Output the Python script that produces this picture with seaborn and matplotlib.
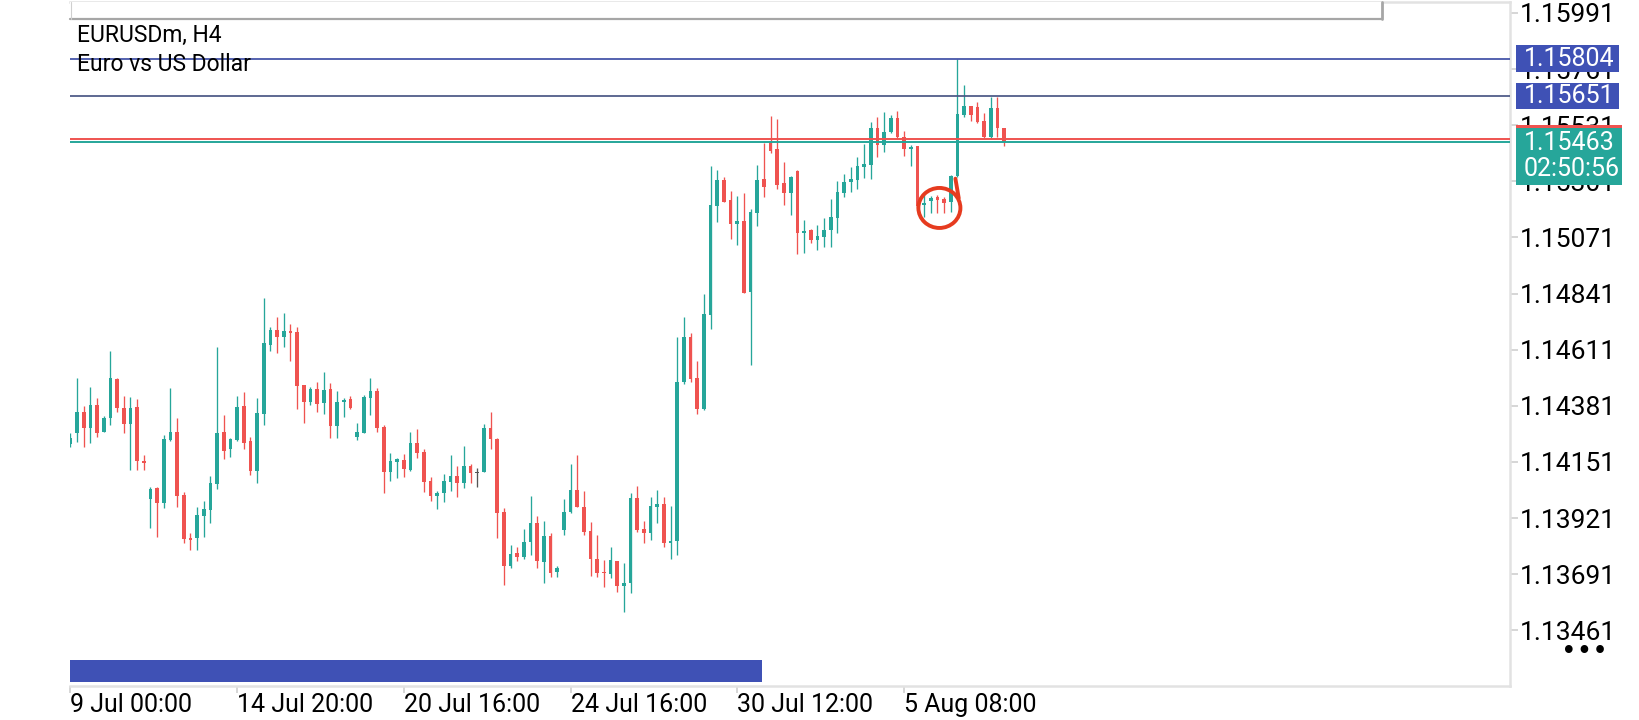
"""
EURUSDm H4 candlestick screenshot rebuilt with seaborn / matplotlib
"""
import numpy as np
import pandas as pd
import seaborn as sns
import matplotlib.pyplot as plt
from matplotlib.patches import Rectangle, Ellipse

# OHLC, one value per H4 bar
opens = [
    1.14224, 1.14268, 1.14356, 1.14291, 1.14384, 1.14275, 1.14330, 1.14490, 1.14371, 1.14306,
    1.14375, 1.14154, 1.13998, 1.14043, 1.13984, 1.14241, 1.14272, 1.14016, 1.13838, 1.13838,
    1.13931, 1.13954, 1.14061, 1.14272, 1.14203, 1.14241, 1.14380, 1.14237, 1.14115, 1.14347,
    1.14630, 1.14692, 1.14662, 1.14686, 1.14685, 1.14466, 1.14398, 1.14450, 1.14391, 1.14450,
    1.14300, 1.14398, 1.14409, 1.14254, 1.14271, 1.14414, 1.14442, 1.14295, 1.14111, 1.14152,
    1.14159, 1.14118, 1.14230, 1.14193, 1.14073, 1.14011, 1.14022, 1.14070, 1.14093, 1.14066,
    1.14134, 1.14107, 1.14111, 1.14291, 1.14245, 1.13945, 1.13726, 1.13779, 1.13763, 1.13822,
    1.13900, 1.13742, 1.13848, 1.13701, 1.13872, 1.13947, 1.14036, 1.13968, 1.13869, 1.13752,
    1.13701, 1.13690, 1.13745, 1.13644, 1.13654, 1.14004, 1.13876, 1.13861, 1.13968, 1.13979,
    1.13820, 1.13827, 1.14477, 1.14664, 1.14496, 1.14368, 1.14753, 1.15200, 1.15306, 1.15224,
    1.15125, 1.15138, 1.14848, 1.15172, 1.15310, 1.15467, 1.15433, 1.15293, 1.15254, 1.15344,
    1.15090, 1.15101, 1.15060, 1.15074, 1.15101, 1.15152, 1.15254, 1.15297, 1.15306, 1.15361,
    1.15368, 1.15518, 1.15450, 1.15504, 1.15559, 1.15481, 1.15432, 1.15446, 1.15204, 1.15222,
    1.15235, 1.15227, 1.15217, 1.15323, 1.15573, 1.15610, 1.15607, 1.15548, 1.15481, 1.15600,
    1.15518,
]
highs = [
    1.14268, 1.14494, 1.14380, 1.14457, 1.14412, 1.14339, 1.14606, 1.14494, 1.14421, 1.14416,
    1.14408, 1.14179, 1.14050, 1.14050, 1.14261, 1.14453, 1.14330, 1.14028, 1.13859, 1.13965,
    1.13992, 1.14093, 1.14621, 1.14343, 1.14248, 1.14421, 1.14438, 1.14254, 1.14412, 1.14823,
    1.14703, 1.14744, 1.14763, 1.14716, 1.14703, 1.14466, 1.14459, 1.14477, 1.14521, 1.14473,
    1.14442, 1.14412, 1.14421, 1.14309, 1.14425, 1.14494, 1.14453, 1.14302, 1.14189, 1.14166,
    1.14182, 1.14274, 1.14285, 1.14204, 1.14091, 1.14033, 1.14100, 1.14179, 1.14134, 1.14216,
    1.14141, 1.14125, 1.14306, 1.14357, 1.14250, 1.13961, 1.13811, 1.13804, 1.13875, 1.14011,
    1.13929, 1.13909, 1.13861, 1.13725, 1.13999, 1.14143, 1.14179, 1.14032, 1.13906, 1.13852,
    1.13749, 1.13804, 1.13745, 1.13736, 1.14022, 1.14054, 1.13909, 1.14009, 1.14036, 1.14009,
    1.13970, 1.14664, 1.14744, 1.14681, 1.14565, 1.14839, 1.15365, 1.15347, 1.15317, 1.15262,
    1.15241, 1.15254, 1.15186, 1.15368, 1.15457, 1.15569, 1.15555, 1.15381, 1.15323, 1.15347,
    1.15142, 1.15104, 1.15122, 1.15149, 1.15227, 1.15304, 1.15330, 1.15361, 1.15402, 1.15454,
    1.15545, 1.15566, 1.15586, 1.15573, 1.15589, 1.15508, 1.15450, 1.15447, 1.15245, 1.15242,
    1.15245, 1.15238, 1.15327, 1.15801, 1.15696, 1.15610, 1.15627, 1.15582, 1.15648, 1.15648,
    1.15521,
]
lows = [
    1.14211, 1.14234, 1.14211, 1.14227, 1.14254, 1.14273, 1.14302, 1.14357, 1.14268, 1.14118,
    1.14118, 1.14118, 1.13879, 1.13845, 1.13961, 1.14238, 1.13968, 1.13820, 1.13790, 1.13790,
    1.13845, 1.13902, 1.14040, 1.14162, 1.14172, 1.14238, 1.14203, 1.14097, 1.14063, 1.14302,
    1.14607, 1.14599, 1.14621, 1.14566, 1.14367, 1.14312, 1.14384, 1.14357, 1.14346, 1.14248,
    1.14248, 1.14334, 1.14367, 1.14241, 1.14268, 1.14343, 1.14275, 1.14025, 1.14073, 1.14084,
    1.14091, 1.14115, 1.14168, 1.14029, 1.13991, 1.13957, 1.13988, 1.14033, 1.14009, 1.14043,
    1.14063, 1.14050, 1.14108, 1.14203, 1.13838, 1.13647, 1.13715, 1.13746, 1.13752, 1.13770,
    1.13715, 1.13654, 1.13678, 1.13681, 1.13852, 1.13940, 1.13965, 1.13852, 1.13684, 1.13678,
    1.13640, 1.13674, 1.13619, 1.13537, 1.13613, 1.13865, 1.13820, 1.13831, 1.13902, 1.13804,
    1.13752, 1.13770, 1.14469, 1.14480, 1.14346, 1.14365, 1.14695, 1.15136, 1.15217, 1.15063,
    1.15040, 1.14845, 1.14548, 1.15118, 1.15235, 1.15416, 1.15268, 1.15204, 1.15163, 1.15003,
    1.15008, 1.15049, 1.15019, 1.15033, 1.15031, 1.15088, 1.15238, 1.15258, 1.15268, 1.15313,
    1.15309, 1.15399, 1.15422, 1.15498, 1.15473, 1.15405, 1.15364, 1.15190, 1.15156, 1.15170,
    1.15172, 1.15170, 1.15176, 1.15320, 1.15566, 1.15549, 1.15541, 1.15477, 1.15473, 1.15481,
    1.15446,
]
closes = [
    1.14249, 1.14356, 1.14291, 1.14384, 1.14271, 1.14330, 1.14494, 1.14371, 1.14305, 1.14371,
    1.14156, 1.14145, 1.14039, 1.13984, 1.14245, 1.14272, 1.14011, 1.13834, 1.13834, 1.13934,
    1.13957, 1.14066, 1.14268, 1.14197, 1.14245, 1.14377, 1.14230, 1.14115, 1.14350, 1.14637,
    1.14692, 1.14662, 1.14688, 1.14681, 1.14463, 1.14398, 1.14450, 1.14387, 1.14446, 1.14300,
    1.14395, 1.14405, 1.14373, 1.14274, 1.14416, 1.14442, 1.14291, 1.14111, 1.14155, 1.14162,
    1.14122, 1.14230, 1.14189, 1.14070, 1.14011, 1.14025, 1.14073, 1.14093, 1.14066, 1.14134,
    1.14107, 1.14107, 1.14291, 1.14244, 1.13943, 1.13726, 1.13774, 1.13763, 1.13822, 1.13900,
    1.13746, 1.13848, 1.13697, 1.13718, 1.13947, 1.14036, 1.13965, 1.13865, 1.13752, 1.13697,
    1.13695, 1.13749, 1.13643, 1.13656, 1.14004, 1.13872, 1.13861, 1.13970, 1.13979, 1.13820,
    1.13827, 1.14477, 1.14664, 1.14491, 1.14368, 1.14757, 1.15204, 1.15306, 1.15217, 1.15126,
    1.15138, 1.14845, 1.15175, 1.15306, 1.15279, 1.15426, 1.15286, 1.15254, 1.15317, 1.15088,
    1.15097, 1.15060, 1.15077, 1.15101, 1.15156, 1.15258, 1.15298, 1.15310, 1.15364, 1.15372,
    1.15518, 1.15450, 1.15504, 1.15559, 1.15481, 1.15432, 1.15443, 1.15200, 1.15213, 1.15234,
    1.15224, 1.15213, 1.15323, 1.15577, 1.15610, 1.15573, 1.15545, 1.15481, 1.15600, 1.15518,
    1.15463,
]

tick_bars = [0, 25, 50, 75, 100, 125]
tick_labels = ['9 Jul 00:00', '14 Jul 20:00', '20 Jul 16:00',
               '24 Jul 16:00', '30 Jul 12:00', '5 Aug 08:00']
price_ticks = [1.15991, 1.15761, 1.15531, 1.15301, 1.15071, 1.14841,
               1.14611, 1.14381, 1.14151, 1.13921, 1.13691, 1.13461]

level_top = 1.15804
level_mid = 1.15651
bid = 1.15463
ask = 1.15473
countdown = '02:50:56'

# hand drawn circle around the small bars after the drop
circle_bar, circle_price = 130.3, 1.15192
circle_w, circle_h = 6.3, 0.00164

up_c = '#26a69a'
down_c = '#ef5350'
doji_c = '#555555'

sns.set_theme(style='white')
plt.rcParams['font.family'] = ['Roboto', 'DejaVu Sans']

df = pd.DataFrame({'open': opens, 'high': highs, 'low': lows, 'close': closes})
df['bar'] = np.arange(len(df))
df['colour'] = np.where(df['close'] > df['open'], up_c,
                        np.where(df['close'] < df['open'], down_c, doji_c))
body_h = np.maximum((df['close'] - df['open']).abs(), 0.00006)
body_lo = np.minimum(df['open'], df['close']) - (body_h - (df['close'] - df['open']).abs()) / 2

fig = plt.figure(figsize=(16.4, 7.2), dpi=100)
ax = fig.add_axes([70 / 1640, 34 / 720, 1440 / 1640, 684 / 720])

# candles
ax.vlines(df['bar'], df['low'], df['high'], colors=df['colour'], lw=0.95, zorder=3)
ax.bar(df['bar'], body_h, bottom=body_lo, width=0.55, color=df['colour'], linewidth=0, zorder=4)

# price levels
ax.axhline(level_top, color='#3f4fa6', lw=1.25, zorder=5)
ax.axhline(level_mid, color='#4a5684', lw=1.25, zorder=5)
ax.axhline(ask, color=down_c, lw=1.4, zorder=5)
ax.axhline(bid, color=up_c, lw=1.4, zorder=5)

ax.set_xlim(-0.05, 215.85)
ax.set_ylim(1.13233, 1.16036)

# axes look
sns.despine(ax=ax, left=True, top=False, right=False, bottom=False)
for side in ['top', 'right', 'bottom']:
    ax.spines[side].set_color('#e2e2e2')
    ax.spines[side].set_linewidth(1.8)

ax.yaxis.tick_right()
ax.set_yticks(price_ticks)
ax.set_yticklabels([f'{p:.5f}' for p in price_ticks])
ax.tick_params(axis='y', right=True, left=False, labelright=True, labelleft=False,
               length=6, width=1.4, color='#d6d6d6', pad=1, labelsize=19, labelcolor='black')

ax.set_xticks(tick_bars)
ax.set_xticklabels(tick_labels, ha='left')
ax.tick_params(axis='x', bottom=True, length=5, width=1.4, color='#d6d6d6', pad=0,
               labelsize=18, labelcolor='black')
ax.set_xlabel('')
ax.set_ylabel('')

# right-hand price boxes
trans = ax.get_yaxis_transform()
box_x0, box_w, box_h = 1.004, 0.0715, 0.0011
txt_x = 1.0095
for level, col in [(level_top, '#3f51b5'), (level_mid, '#3f51b5')]:
    ax.add_patch(Rectangle((box_x0, level - box_h / 2), box_w, box_h, transform=trans,
                           facecolor=col, lw=0, clip_on=False, zorder=6))
    ax.text(txt_x, level, f'{level:.5f}', transform=trans, color='white', fontsize=18,
            va='center', ha='left', zorder=7, clip_on=False)

ax.add_patch(Rectangle((box_x0, bid - 0.0004), box_w + 0.002, 0.00107, transform=trans,
                       facecolor=down_c, lw=0, clip_on=False, zorder=6))
ax.add_patch(Rectangle((box_x0, bid - 0.00177), box_w + 0.002, 0.00233, transform=trans,
                       facecolor=up_c, lw=0, clip_on=False, zorder=6.5))
ax.text(txt_x, bid - 0.00004, f'{bid:.5f}', transform=trans, color='white', fontsize=18,
        va='center', ha='left', zorder=7, clip_on=False)
ax.text(txt_x, bid - 0.00112, countdown, transform=trans, color='white', fontsize=18,
        va='center', ha='left', zorder=7, clip_on=False)

# top info panel
ax.add_patch(Rectangle((0, 0.9752), 0.911, 0.0248, transform=ax.transAxes,
                       facecolor='white', lw=0, clip_on=False, zorder=6))
ax.plot([0, 0.911], [0.9752, 0.9752], transform=ax.transAxes, color='#a6a6a6', lw=1.6,
        clip_on=False, zorder=7)
ax.plot([0.911, 0.911], [0.9752, 1.0], transform=ax.transAxes, color='#a6a6a6', lw=2.0,
        clip_on=False, zorder=7)
ax.plot([0.0006, 0.0006], [0.9752, 1.0], transform=ax.transAxes, color='#cfcfcf', lw=0.8,
        clip_on=False, zorder=7)
ax.text(0.0049, 0.9415, 'EURUSDm, H4', transform=ax.transAxes, fontsize=16.5,
        va='baseline', ha='left', color='black', zorder=8)
ax.text(0.0049, 0.8995, 'Euro vs US Dollar', transform=ax.transAxes, fontsize=16.5,
        va='baseline', ha='left', color='black', zorder=8)

# scroll bar at the bottom
ax.add_patch(Rectangle((0, 0.0058), 0.4806, 0.032, transform=ax.transAxes,
                       facecolor='#3f51b5', lw=0, zorder=6))

# red marker circle
ax.add_patch(Ellipse((circle_bar, circle_price), circle_w, circle_h, angle=0,
                     facecolor='none', edgecolor='#e63b1f', lw=2.8, zorder=8))
ax.plot([circle_bar + 2.4, circle_bar + 2.9], [circle_price + 0.0012, circle_price + 0.0004],
        color='#e63b1f', lw=2.8, solid_capstyle='round', zorder=8)

fig.text(0.9659, 0.0945, '\u2022\u2022\u2022', fontsize=19, ha='center', va='center',
         family='DejaVu Sans', color='black')

fig.savefig('out.png', dpi=100)
